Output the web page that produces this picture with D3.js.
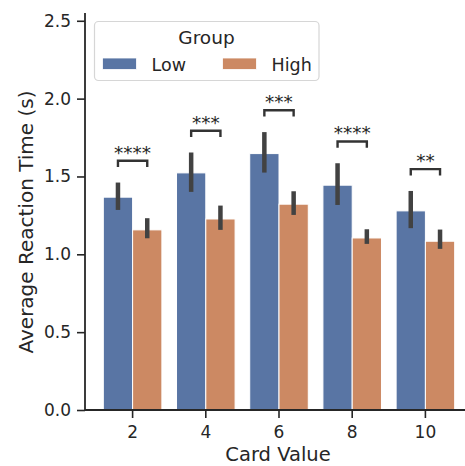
<!DOCTYPE html>
<html>
<head>
<meta charset="utf-8">
<script src="https://cdn.jsdelivr.net/npm/d3@7"></script>
<style>
  body { margin: 0; background: #fff; }
  svg { display: block; font-family: "DejaVu Sans", sans-serif; }
</style>
</head>
<body>
<div id="graph"></div>
<script>
// values
var cardValues = ['2', '4', '6', '8', '10'];
var groups = ['Low', 'High'];
var lowMean = [1.367, 1.523, 1.647, 1.444, 1.279];
var lowLo   = [1.285, 1.401, 1.525, 1.317, 1.168];
var lowHi   = [1.461, 1.654, 1.785, 1.585, 1.407];
var highMean = [1.157, 1.227, 1.322, 1.105, 1.084];
var highLo   = [1.103, 1.157, 1.253, 1.067, 1.035];
var highHi   = [1.232, 1.313, 1.405, 1.161, 1.159];
var sigLabels = ['****', '***', '***', '****', '**'];
var yTicks = [0, 0.5, 1.0, 1.5, 2.0, 2.5];

var colors = {Low: '#5975a4', High: '#cc8963'};
var ink = '#262626';

var width = 465, height = 466;
var plotLeft = 85, plotBottom = 410, plotTop = 13;

var svg = d3.select('#graph').append('svg')
  .attr('width', width)
  .attr('height', height);

var x = d3.scaleBand()
  .domain(cardValues)
  .range([96, 462]);

var xg = d3.scaleBand()
  .domain(groups)
  .range([x.step() * 0.1, x.step() * 0.9]);

var y = d3.scaleLinear()
  .domain([0, 2.55])
  .range([plotBottom, plotTop]);

var rows = cardValues.map(function(c, i) {
  return {
    card: c,
    sig: sigLabels[i],
    bars: [
      {group: 'Low', mean: lowMean[i], lo: lowLo[i], hi: lowHi[i]},
      {group: 'High', mean: highMean[i], lo: highLo[i], hi: highHi[i]}
    ]
  };
});

function bracketLevel(d) {
  return d3.max(d.bars, function(b) { return b.hi; }) + 0.14;
}

// bars
var cat = svg.selectAll('.cat')
  .data(rows)
  .enter().append('g')
  .attr('class', 'cat')
  .attr('transform', function(d) { return 'translate(' + x(d.card) + ',0)'; });

cat.selectAll('rect')
  .data(function(d) { return d.bars; })
  .enter().append('rect')
  .attr('x', function(d) { return xg(d.group); })
  .attr('width', xg.bandwidth())
  .attr('y', function(d) { return y(d.mean); })
  .attr('height', function(d) { return y(0) - y(d.mean); })
  .attr('fill', function(d) { return colors[d.group]; })
  .attr('stroke', '#fff')
  .attr('stroke-width', 1);

// error bars
cat.selectAll('.err')
  .data(function(d) { return d.bars; })
  .enter().append('line')
  .attr('class', 'err')
  .attr('x1', function(d) { return xg(d.group) + xg.bandwidth() / 2; })
  .attr('x2', function(d) { return xg(d.group) + xg.bandwidth() / 2; })
  .attr('y1', function(d) { return y(d.lo); })
  .attr('y2', function(d) { return y(d.hi); })
  .attr('stroke', '#424242')
  .attr('stroke-width', 4.5)
  .attr('stroke-linecap', 'butt');

// significance brackets
var sig = cat.append('g').attr('class', 'sig');
sig.append('path')
  .attr('d', function(d) {
    var lvl = bracketLevel(d);
    var x1 = xg('Low') + xg.bandwidth() / 2, x2 = xg('High') + xg.bandwidth() / 2;
    return 'M' + x1 + ',' + y(lvl - 0.04) + 'V' + y(lvl) + 'H' + x2 + 'V' + y(lvl - 0.04);
  })
  .attr('fill', 'none')
  .attr('stroke', '#333')
  .attr('stroke-width', 2.4);

sig.append('text')
  .attr('x', x.step() / 2)
  .attr('y', function(d) { return y(bracketLevel(d)) - 2; })
  .attr('text-anchor', 'middle')
  .attr('font-size', 18.5)
  .attr('fill', ink)
  .text(function(d) { return d.sig; });

// axes
var yAxis = svg.append('g')
  .attr('transform', 'translate(' + plotLeft + ',0)')
  .call(d3.axisLeft(y).tickValues(yTicks).tickFormat(d3.format('.1f')).tickSize(8).tickPadding(6).tickSizeOuter(0));

var xAxis = svg.append('g')
  .attr('transform', 'translate(0,' + plotBottom + ')')
  .call(d3.axisBottom(x).tickSize(8).tickPadding(8).tickSizeOuter(0));

yAxis.select('.domain').attr('d', 'M0,' + plotTop + 'V' + plotBottom);
xAxis.select('.domain').attr('d', 'M' + plotLeft + ',0H' + width);

[xAxis, yAxis].forEach(function(a) {
  a.select('.domain').attr('stroke', ink).attr('stroke-width', 1.8);
  a.selectAll('.tick line').attr('stroke', ink).attr('stroke-width', 1.6);
  a.selectAll('.tick text')
    .attr('fill', ink)
    .attr('font-size', 17)
    .attr('font-family', '"DejaVu Sans", sans-serif');
});

// axis labels
svg.append('text')
  .attr('x', 278)
  .attr('y', 461)
  .attr('text-anchor', 'middle')
  .attr('font-size', 19.5)
  .attr('fill', ink)
  .text('Card Value');

svg.append('text')
  .attr('transform', 'translate(33,222) rotate(-90)')
  .attr('text-anchor', 'middle')
  .attr('font-size', 20)
  .attr('fill', ink)
  .text('Average Reaction Time (s)');

// legend
var legend = svg.append('g').attr('class', 'legend');
legend.append('rect')
  .attr('x', 94.5)
  .attr('y', 21.5)
  .attr('width', 224.5)
  .attr('height', 59)
  .attr('rx', 4)
  .attr('fill', 'rgba(255,255,255,0.8)')
  .attr('stroke', '#d6d6d6')
  .attr('stroke-width', 1.2);

legend.append('text')
  .attr('x', 206.5)
  .attr('y', 44)
  .attr('text-anchor', 'middle')
  .attr('font-size', 18.5)
  .attr('fill', ink)
  .text('Group');

var item = legend.selectAll('.item')
  .data(groups)
  .enter().append('g')
  .attr('class', 'item')
  .attr('transform', function(d, i) { return 'translate(' + (102.5 + i * 120) + ',58)'; });

item.append('rect')
  .attr('width', 34)
  .attr('height', 11.5)
  .attr('fill', function(d) { return colors[d]; })
  .attr('stroke', '#fff')
  .attr('stroke-width', 0.8);

item.append('text')
  .attr('x', 49)
  .attr('y', 12.7)
  .attr('font-size', 17.5)
  .attr('fill', ink)
  .text(function(d) { return d; });
</script>
</body>
</html>
